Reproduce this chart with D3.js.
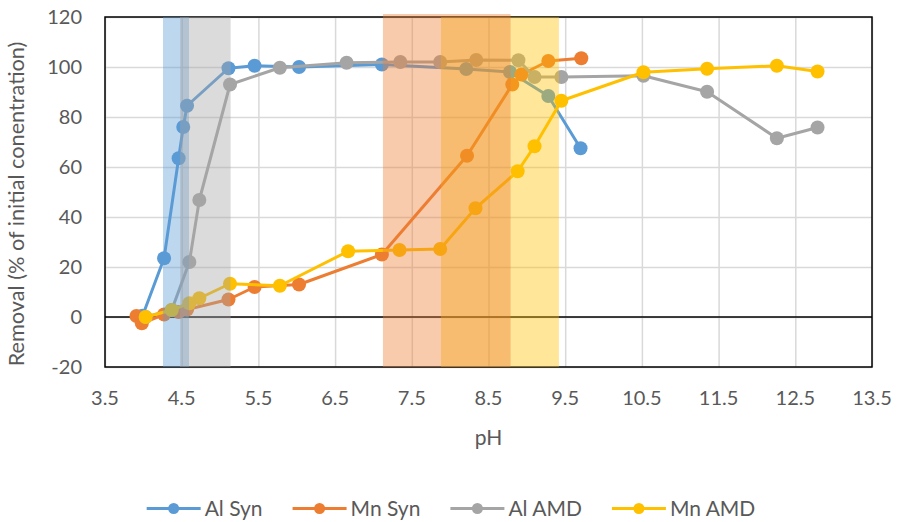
<!DOCTYPE html>
<html>
<head>
<meta charset="utf-8">
<script src="https://cdn.jsdelivr.net/npm/d3@7/dist/d3.min.js"></script>
<style>
  body { margin: 0; background: #fff; }
  text { font-family: Lato, "Open Sans", sans-serif; fill: #595959; }
</style>
</head>
<body>
<div id="chart"></div>
<script>
var width = 900;
var height = 522;

var margin = {top: 17, right: 28, bottom: 155, left: 105};
var chartWidth = width - margin.left - margin.right;
var chartHeight = height - margin.top - margin.bottom;

// data
var seriesNames = ["Al Syn", "Mn Syn", "Al AMD", "Mn AMD"];

var alSynPH = [3.99, 4.27, 4.46, 4.52, 4.57, 5.11, 5.45, 6.03, 7.11, 8.21, 8.78, 9.28, 9.70];
var alSyn   = [0.5, 23.5, 63.5, 76, 84.5, 99.5, 100.5, 100, 101, 99.2, 98, 88.4, 67.5];

var mnSynPH = [3.91, 3.98, 4.27, 4.46, 4.57, 5.11, 5.45, 6.03, 7.11, 8.22, 8.81, 8.93, 9.28, 9.71];
var mnSyn   = [0.4, -2.5, 1, 2, 3, 7, 12, 13, 25, 64.5, 93, 97, 102.4, 103.5];

var alAmdPH = [4.03, 4.37, 4.60, 4.73, 5.13, 5.78, 6.65, 7.35, 7.87, 8.34, 8.89, 9.10, 9.45, 10.52, 11.35, 12.26, 12.79];
var alAmd   = [0, 2.8, 22, 46.8, 93, 99.7, 101.7, 102, 102, 102.8, 102.7, 96, 96, 96.5, 90.1, 71.5, 75.8];

var mnAmdPH = [4.03, 4.37, 4.60, 4.73, 5.13, 5.78, 6.67, 7.34, 7.87, 8.33, 8.88, 9.10, 9.45, 10.52, 11.35, 12.26, 12.79];
var mnAmd   = [0, 2.8, 5.5, 7.5, 13.3, 12.5, 26.3, 26.8, 27.2, 43.5, 58.3, 68.3, 86.5, 97.9, 99.3, 100.5, 98.2];

// shaded pH ranges (blue, gray, yellow, orange)
var bandStart = [4.256, 4.478, 7.88, 7.124];
var bandEnd   = [4.595, 5.138, 9.418, 8.788];
var bandTop   = [120, 120, 120, 121.2];

var xTicks = [3.5, 4.5, 5.5, 6.5, 7.5, 8.5, 9.5, 10.5, 11.5, 12.5, 13.5];
var yTicks = [-20, 0, 20, 40, 60, 80, 100, 120];

var colors = ["#5B9BD5", "#ED7D31", "#A5A5A5", "#FFC000"];
var bandColors = ["#5B9BD5", "#A5A5A5", "#FFC000", "#ED7D31"];

var series = [
    {name: seriesNames[0], x: alSynPH, y: alSyn},
    {name: seriesNames[1], x: mnSynPH, y: mnSyn},
    {name: seriesNames[2], x: alAmdPH, y: alAmd},
    {name: seriesNames[3], x: mnAmdPH, y: mnAmd}
];

var svg = d3.select("#chart")
    .append("svg")
    .attr("width", width)
    .attr("height", height);

var g = svg.append("g")
    .attr("transform", "translate(" + margin.left + "," + margin.top + ")");

var x = d3.scaleLinear().domain([3.5, 13.5]).range([0, chartWidth]);
var y = d3.scaleLinear().domain([-20, 120]).range([chartHeight, 0]);

// gridlines
g.append("g")
    .attr("class", "grid-x")
    .attr("transform", "translate(0," + chartHeight + ")")
    .call(d3.axisBottom(x).tickValues(xTicks).tickSize(-chartHeight).tickFormat(""))
    .call(function (a) { a.select(".domain").remove(); })
    .selectAll("line").attr("stroke", "#D9D9D9").attr("stroke-width", 1.5);

g.append("g")
    .attr("class", "grid-y")
    .call(d3.axisLeft(y).tickValues(yTicks).tickSize(-chartWidth).tickFormat(""))
    .call(function (a) { a.select(".domain").remove(); })
    .selectAll("line").attr("stroke", "#D9D9D9").attr("stroke-width", 1.5);

// zero line
g.append("line")
    .attr("x1", 0).attr("x2", chartWidth)
    .attr("y1", y(0)).attr("y2", y(0))
    .attr("stroke", "#000").attr("stroke-width", 1.5);

// plot border
g.append("rect")
    .attr("width", chartWidth).attr("height", chartHeight)
    .attr("fill", "none").attr("stroke", "#000").attr("stroke-width", 1.5);

// series
var line = d3.line()
    .x(function (d) { return x(d[0]); })
    .y(function (d) { return y(d[1]); });

series.forEach(function (s, i) {
    var pts = s.x.map(function (v, j) { return [v, s.y[j]]; });
    var sg = g.append("g").attr("class", "series");
    sg.append("path")
        .datum(pts)
        .attr("d", line)
        .attr("fill", "none")
        .attr("stroke", colors[i])
        .attr("stroke-width", 3)
        .attr("stroke-linejoin", "round");
    sg.selectAll("circle")
        .data(pts)
        .enter().append("circle")
        .attr("cx", function (d) { return x(d[0]); })
        .attr("cy", function (d) { return y(d[1]); })
        .attr("r", 7)
        .attr("fill", colors[i]);
});

// shaded bands on top
g.selectAll(".band")
    .data(bandStart)
    .enter().append("rect")
    .attr("class", "band")
    .attr("x", function (d) { return x(d); })
    .attr("width", function (d, i) { return x(bandEnd[i]) - x(d); })
    .attr("y", function (d, i) { return y(bandTop[i]); })
    .attr("height", function (d, i) { return chartHeight - y(bandTop[i]); })
    .attr("fill", function (d, i) { return bandColors[i]; })
    .attr("fill-opacity", 0.4);

// tick labels
g.selectAll(".xlab")
    .data(xTicks)
    .enter().append("text")
    .attr("x", function (d) { return x(d); })
    .attr("y", chartHeight + 38)
    .attr("text-anchor", "middle")
    .style("font-size", "20px")
    .text(function (d) { return d3.format(".1f")(d); });

g.selectAll(".ylab")
    .data(yTicks)
    .enter().append("text")
    .attr("x", -23)
    .attr("y", function (d) { return y(d) + 7; })
    .attr("text-anchor", "end")
    .style("font-size", "20px")
    .text(function (d) { return d; });

// axis titles
svg.append("text")
    .attr("x", margin.left + chartWidth / 2)
    .attr("y", 445)
    .attr("text-anchor", "middle")
    .style("font-size", "21px")
    .text("pH");

svg.append("text")
    .attr("transform", "translate(24,204) rotate(-90)")
    .attr("text-anchor", "middle")
    .style("font-size", "21.7px")
    .text("Removal (% of initial conentration)");

// legend
var legend = svg.append("g").attr("class", "legend");
var lx = 0;
seriesNames.forEach(function (name, i) {
    var item = legend.append("g").attr("transform", "translate(" + lx + ",0)");
    item.append("line")
        .attr("x1", 0).attr("x2", 54)
        .attr("y1", 0).attr("y2", 0)
        .attr("stroke", colors[i]).attr("stroke-width", 3);
    item.append("circle")
        .attr("cx", 27).attr("cy", 0).attr("r", 5.5)
        .attr("fill", colors[i]);
    var t = item.append("text")
        .attr("x", 58).attr("y", 7.5)
        .style("font-size", "21px")
        .text(name);
    lx += 58 + t.node().getComputedTextLength() + 30;
});
var legendWidth = lx - 30;
legend.attr("transform", "translate(" + (451 - legendWidth / 2) + ",508.5)");
</script>
</body>
</html>
